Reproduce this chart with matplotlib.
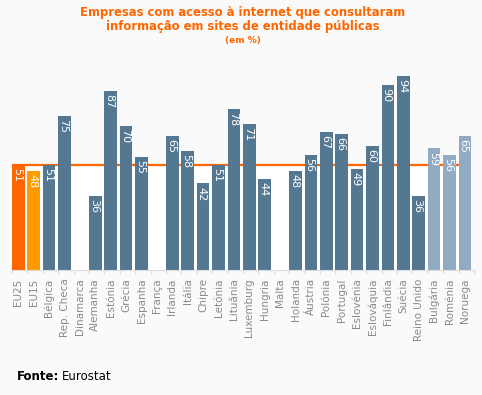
import numpy as np
import matplotlib.pyplot as plt

countries = ['EU25', 'EU15', 'Bélgica', 'Rep. Checa', 'Dinamarca', 'Alemanha', 'Estónia',
             'Grécia', 'Espanha', 'França', 'Irlanda', 'Itália', 'Chipre', 'Letónia',
             'Lituânia', 'Luxemburg', 'Hungria', 'Malta', 'Holanda', 'Áustria', 'Polónia',
             'Portugal', 'Eslovénia', 'Eslováquia', 'Finlândia', 'Suécia', 'Reino Unido',
             'Bulgária', 'Roménia', 'Noruega']
values = [51, 48, 51, 75, None, 36, 87, 70, 55, None, 65, 58, 42, 51, 78, 71, 44, None,
          48, 56, 67, 66, 49, 60, 90, 94, 36, 59, 56, 65]
eu25_avg = 51

orange = '#ff6600'
colors = ['#ff6600', '#ff9900'] + ['#557892'] * 25 + ['#91abc3'] * 3

fig = plt.figure(figsize=(4.82, 3.95), dpi=100)
fig.patch.set_facecolor('#fafafa')
ax = fig.add_axes([12 / 482, 125 / 395, 462 / 482, 206 / 395])
ax.set_facecolor('#fafafa')

x = np.arange(len(countries))
# white area under the EU25 average, with the orange line on top
ax.fill_between([0, len(countries) - 1], 0, eu25_avg, color='white', zorder=0)
ax.plot([0, len(countries) - 1], [eu25_avg, eu25_avg], color=orange, lw=1.6, zorder=1)

for i, v in enumerate(values):
    if v is None:
        continue
    ax.bar(i, v, width=0.82, align='edge', color=colors[i], zorder=2)
    ax.text(i + 0.33, v - 1.5, str(v), rotation=-90, ha='center', va='top',
            color='white', fontsize=8, zorder=3)

ax.set_xlim(0, len(countries))
ax.set_ylim(0, 100)
ax.set_xticks(np.arange(len(countries) + 1))
ax.set_xticklabels([])
ax.set_xticks(x + 0.41, minor=True)
ax.set_xticklabels(countries, minor=True, rotation=90, fontsize=7.5, color='#8a8a8a',
                   va='top', ha='center')
ax.tick_params(axis='x', which='major', length=3, color='#dddddd', width=1)
ax.tick_params(axis='x', which='minor', length=0, pad=6)
ax.set_yticks([])
for s in ['top', 'right', 'left']:
    ax.spines[s].set_visible(False)
ax.spines['bottom'].set_color('#dddddd')

fig.text(0.503, 0.985, 'Empresas com acesso à internet que consultaram\ninformação em sites de entidade públicas',
         ha='center', va='top', color=orange, fontsize=8.4, fontweight='bold', linespacing=1.15)
fig.text(0.503, 0.908, '(em %)', ha='center', va='top', color=orange, fontsize=6.5,
         fontweight='bold')

fig.text(17 / 482, 1 - 377 / 395, 'Fonte:', ha='left', va='center', fontsize=8.5,
         fontweight='bold', color='black')
fig.text(62 / 482, 1 - 377 / 395, 'Eurostat', ha='left', va='center', fontsize=8.5,
         color='black')

fig.savefig('out.png', dpi=100, facecolor=fig.get_facecolor())
